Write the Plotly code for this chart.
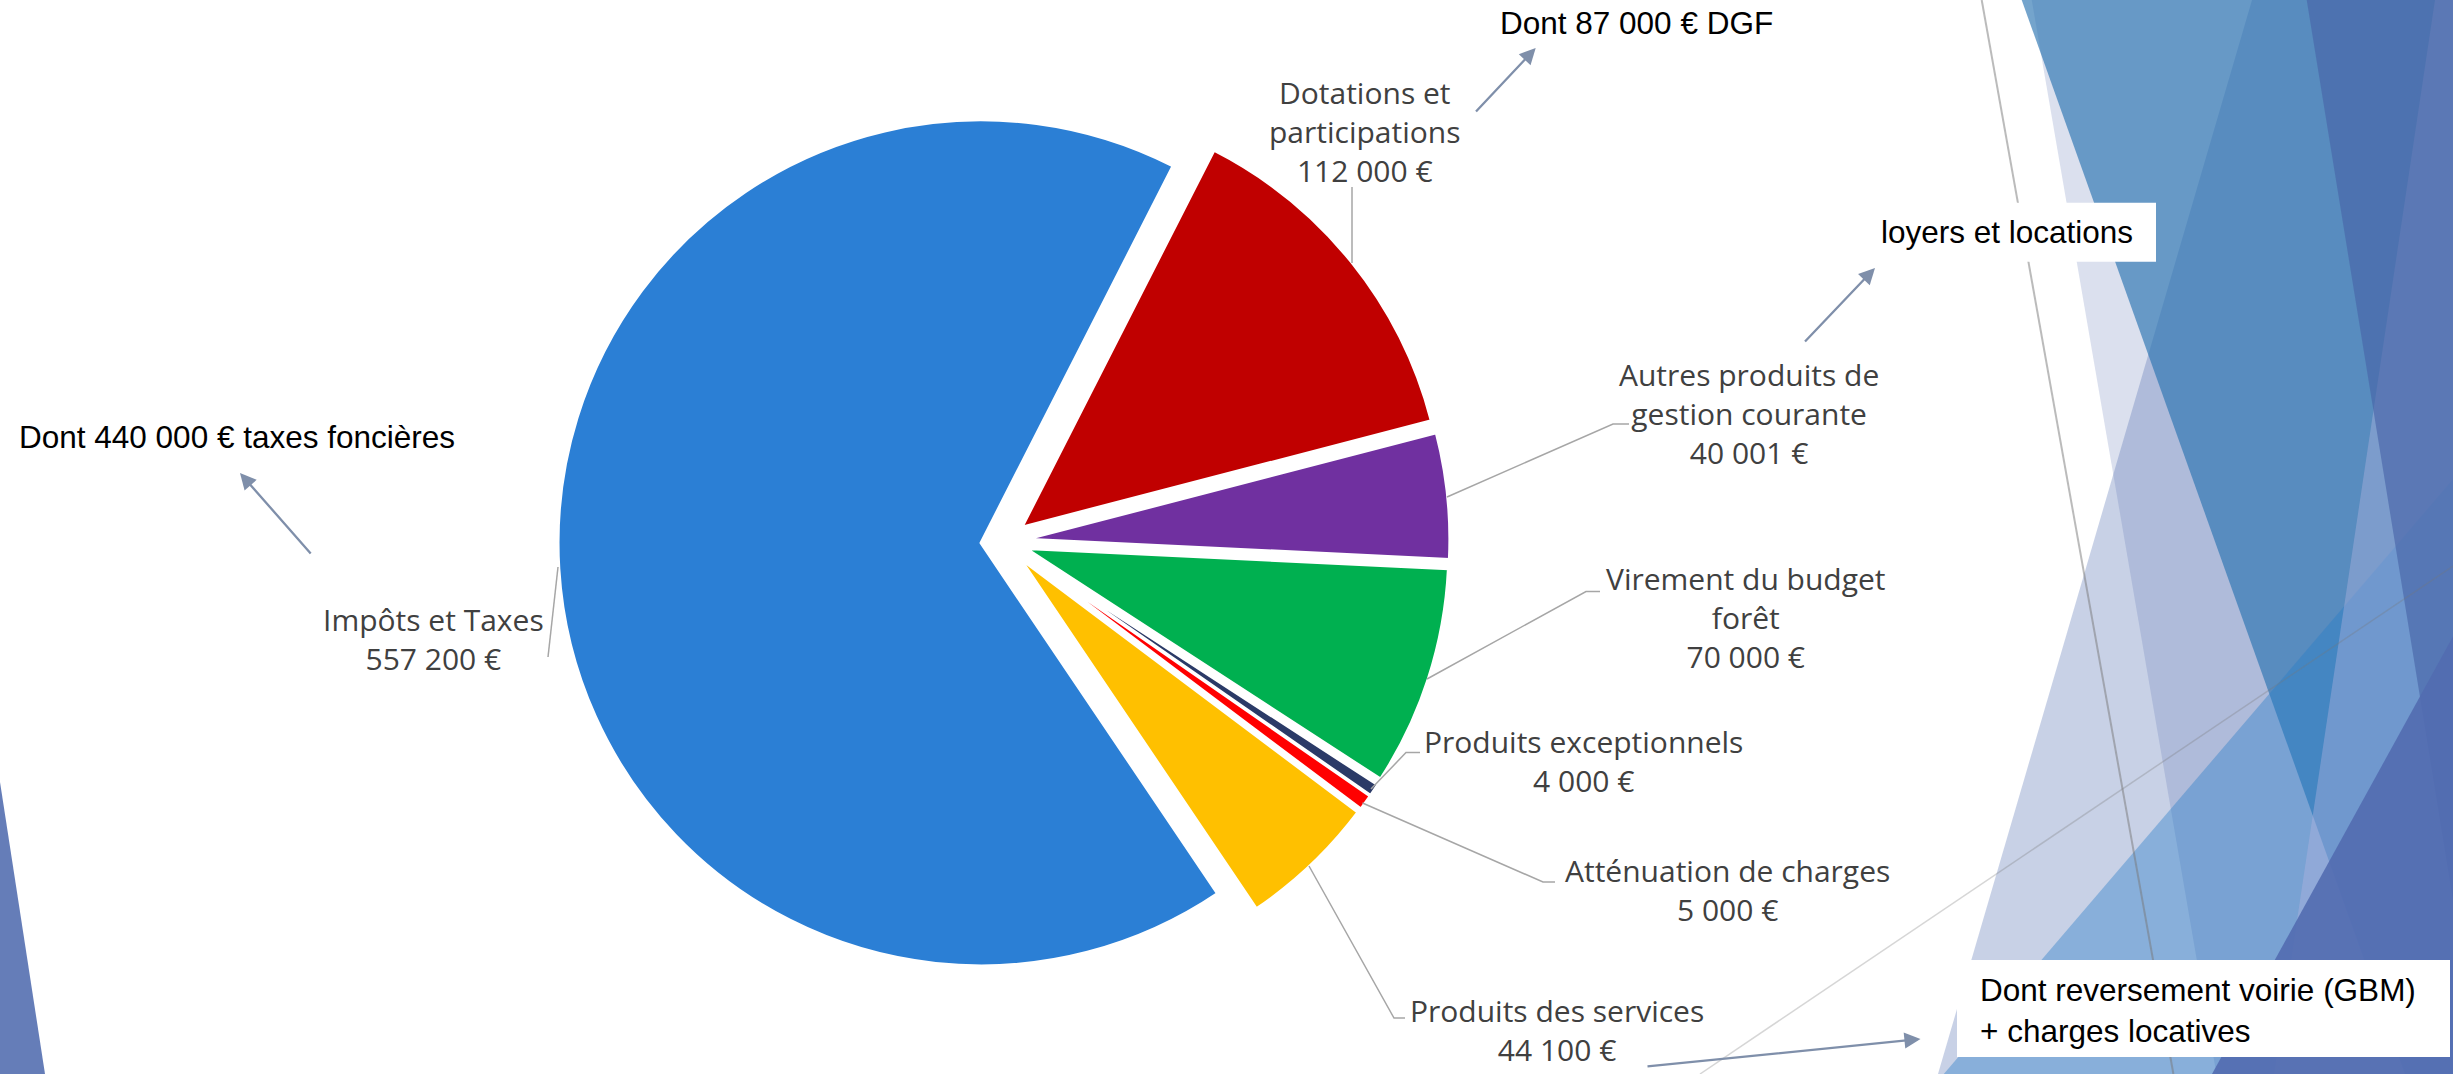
import plotly.graph_objects as go

W, H = 2453, 1074

# ---------------- data ----------------
categories = ["Dotations et participations", "Autres produits de gestion courante",
              "Virement du budget forêt", "Produits exceptionnels",
              "Atténuation de charges", "Produits des services", "Impôts et Taxes"]
values = [112000, 40001, 70000, 4000, 5000, 44100, 557200]
label_text = ["Dotations et<br>participations", "Autres produits de<br>gestion courante",
              "Virement du budget<br>forêt", "Produits exceptionnels",
              "Atténuation de charges", "Produits des services", "Impôts et Taxes"]
colors = ["#C00000", "#7030A0", "#00B050", "#2B3A67", "#FF0000", "#FFC000", "#2B7FD5"]

notes = ["Dont 87 000 € DGF", "loyers et locations", "Dont 440 000 € taxes foncières",
         "Dont reversement voirie (GBM)<br>+ charges locatives"]

# ---------------- layout helpers (pixel positions) ----------------
label_pos = [(1365, 131), (1749, 413.5), (1746, 617), (1583.5, 760.5),
             (1727, 890), (1557, 1030), (433, 638.5)]
leaders = [
    [(1352, 187), (1352, 263)],
    [(1629, 424), (1613, 424), (1447, 497)],
    [(1600, 591.5), (1586, 591.5), (1427, 679)],
    [(1420, 752.6), (1406, 752.6), (1371, 789)],
    [(1555, 882), (1543, 882), (1362.5, 803)],
    [(1405, 1018), (1394, 1018), (1309, 866)],
    [(558, 567), (548, 657)],
]
note_pos = [(1636, 22.5, "center"), (1879, 232, "left"), (237, 437, "center"), (1978, 1010, "left")]
arrows = [((1535.7, 48), (1474.6, 113)), ((1875, 268), (1803.6, 343)),
          ((240, 473), (312, 555)), ((1920.5, 1039), (1646, 1066.6))]
boxes = [(1858.5, 202.7, 2156, 261.7), (1957, 960, 2450, 1057)]

# decorative theme facets (x list, y list, fill)
facets = [
    ([0, 45, 0], [782, 1074, 1074], "rgba(74,102,172,0.85)"),
    ([2031.7, W, W, 2216.4], [0, 0, H, H], "rgba(74,102,172,0.20)"),
    ([2252, W, W, 1938], [0, 0, H, H], "rgba(74,102,172,0.30)"),
    ([2021.7, W, W, 2405], [0, 0, H, H], "rgba(42,115,177,0.65)"),
    ([1943.8, W, W], [H, 479.3, H], "rgba(40,125,200,0.40)"),
    ([2435, W, W, 2274], [0, 0, H, H], "rgba(180,180,225,0.40)"),
    ([2306.7, W, W], [0, 0, 900], "rgba(72,100,168,0.64)"),
    ([2212, W, W], [H, 636.5, H], "rgba(82,108,176,0.90)"),
]
theme_lines = [((1981.7, 0), (2173.4, H), "rgba(120,120,120,0.5)", 2),
               ((1700, H), (W, 566), "rgba(120,120,120,0.3)", 1.5)]

fig = go.Figure()

for xs, ys, fc in facets:
    fig.add_trace(go.Scatter(x=xs, y=ys, fill="toself", fillcolor=fc, mode="none",
                             hoverinfo="skip", showlegend=False))

R_PULL = 0.0544
cx, cy, half = 1004, 541.5, 446
fig.add_trace(go.Pie(
    labels=categories, values=values, sort=False, direction="clockwise", rotation=27,
    marker=dict(colors=colors, line=dict(color="white", width=3)),
    pull=[R_PULL] * len(values), textinfo="none", showlegend=False,
    domain=dict(x=[(cx - half) / W, (cx + half) / W], y=[1 - (cy + half) / H, 1 - (cy - half) / H]),
))

shapes = []
for (x0, y0), (x1, y1), col, wd in theme_lines:
    shapes.append(dict(type="line", x0=x0, y0=y0, x1=x1, y1=y1, xref="x", yref="y",
                       line=dict(color=col, width=wd), layer="above"))
for x0, y0, x1, y1 in boxes:
    shapes.append(dict(type="rect", x0=x0, y0=y0, x1=x1, y1=y1, xref="x", yref="y",
                       fillcolor="white", line=dict(width=0), layer="above"))
for pts in leaders:
    path = "M " + " L ".join(f"{x},{y}" for x, y in pts)
    shapes.append(dict(type="path", path=path, xref="x", yref="y",
                       line=dict(color="#A6A6A6", width=1.5), layer="above"))

annotations = []
for txt, v, (x, y) in zip(label_text, values, label_pos):
    val = f"{v:,}".replace(",", " ") + " €"
    annotations.append(dict(x=x, y=y, xref="x", yref="y", text=f"{txt}<br>{val}",
                            showarrow=False, xanchor="center", yanchor="middle", align="center",
                            font=dict(family="Open Sans", size=30, color="#404040")))
for txt, (x, y, anc) in zip(notes, note_pos):
    annotations.append(dict(x=x, y=y, xref="x", yref="y", text=txt, showarrow=False,
                            xanchor=anc, yanchor="middle", align="left",
                            font=dict(family="Liberation Sans, Arial", size=31.5, color="black")))
for (hx, hy), (tx, ty) in arrows:
    annotations.append(dict(x=hx, y=hy, ax=tx, ay=ty, xref="x", yref="y", axref="x", ayref="y",
                            text="", showarrow=True, arrowhead=2, arrowsize=1.4, arrowwidth=2.3,
                            arrowcolor="#7F8FAA", standoff=0, startstandoff=0))

fig.update_layout(
    width=W, height=H, margin=dict(l=0, r=0, t=0, b=0),
    paper_bgcolor="white", plot_bgcolor="white",
    xaxis=dict(range=[0, W], visible=False, domain=[0, 1]),
    yaxis=dict(range=[H, 0], visible=False, domain=[0, 1]),
    shapes=shapes, annotations=annotations, showlegend=False,
)

fig.write_html("out.html", config={"displayModeBar": False},
               post_script="document.body.style.margin='0';document.body.style.overflow='hidden';")
